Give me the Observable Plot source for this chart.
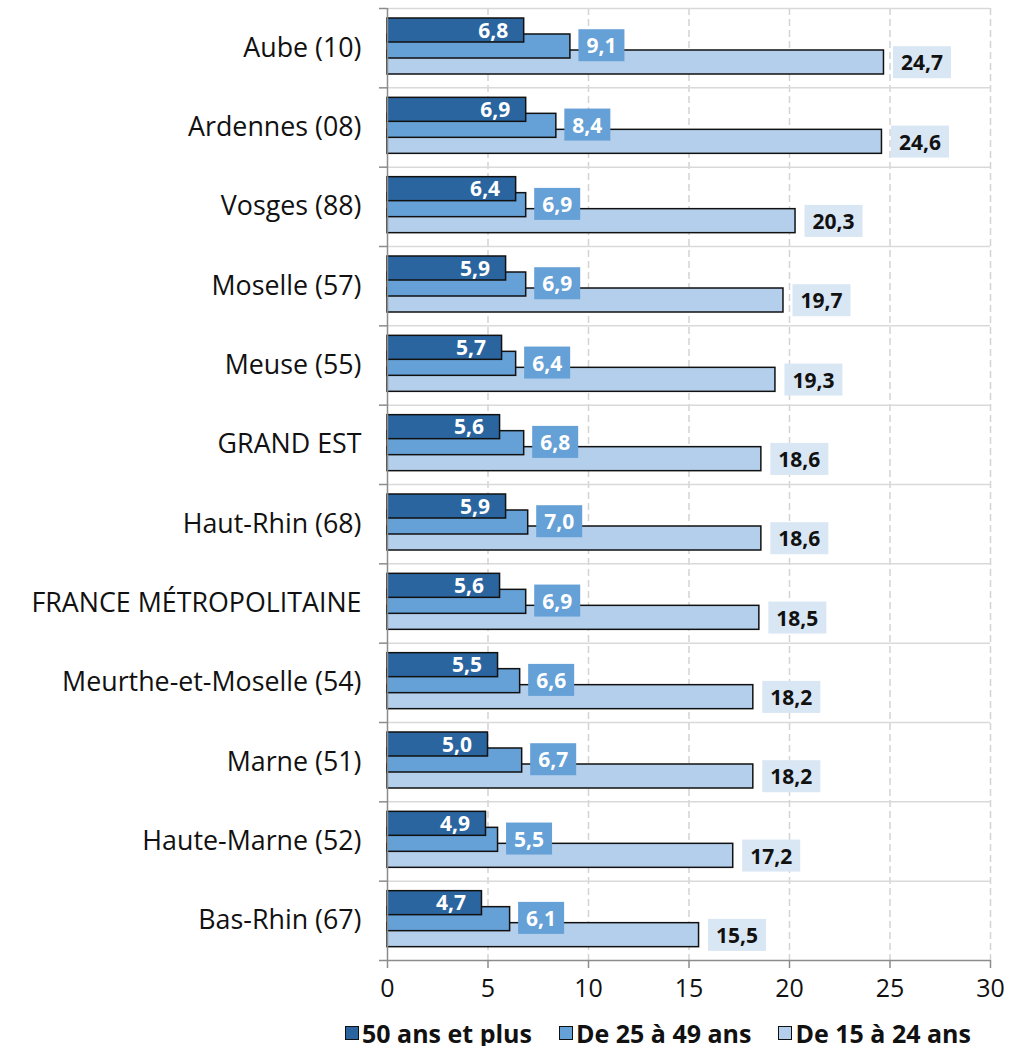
<!DOCTYPE html>
<html><head><meta charset="utf-8">
<script src="https://cdn.jsdelivr.net/npm/d3@7"></script>
<script src="https://cdn.jsdelivr.net/npm/@observablehq/plot@0.6"></script>
<style>
body{margin:0;background:#fff;font-family:"Open Sans",Lato,sans-serif;color:#111;}
#chart svg{display:block;overflow:visible;}
#legend{display:flex;align-items:center;margin-left:345px;margin-top:12px;font-weight:bold;font-size:25px;line-height:26px;color:#111;}
.item{display:flex;align-items:center;margin-right:27px;}
.sw{width:12px;height:12px;border:1.5px solid #111;margin-right:3px;}
</style></head><body>
<div id="chart"></div><div id="legend"></div>
<script>
const categories = ["Aube (10)","Ardennes (08)","Vosges (88)","Moselle (57)","Meuse (55)","GRAND EST","Haut-Rhin (68)","FRANCE MÉTROPOLITAINE","Meurthe-et-Moselle (54)","Marne (51)","Haute-Marne (52)","Bas-Rhin (67)"];
const seriesNames = ["50 ans et plus","De 25 à 49 ans","De 15 à 24 ans"];
const v50 = [6.8,6.9,6.4,5.9,5.7,5.6,5.9,5.6,5.5,5.0,4.9,4.7];
const v25 = [9.1,8.4,6.9,6.9,6.4,6.8,7.0,6.9,6.6,6.7,5.5,6.1];
const v15 = [24.7,24.6,20.3,19.7,19.3,18.6,18.6,18.5,18.2,18.2,17.2,15.5];
const xTicks = [0,5,10,15,20,25,30];
const colors = ["#2a65a0","#65a0d6","#b4cfeb"];
const boxLight = "#d9e6f4";

const W = 1029, H = 1008, mL = 387, mR = 39, mT = 8, mB = 48;
const bw = (H - mT - mB) / categories.length;
const fmt = v => v.toFixed(1).replace(".", ",");
const d50 = categories.map((c,i)=>({cat:c, v:v50[i]}));
const d25 = categories.map((c,i)=>({cat:c, v:v25[i]}));
const d15 = categories.map((c,i)=>({cat:c, v:v15[i]}));
const barOpt = {stroke:"#111", strokeWidth:1.5};
const FONT = "'Open Sans', Lato, sans-serif";

const chart = Plot.plot({
  width: W, height: H, marginLeft: mL, marginRight: mR, marginTop: mT, marginBottom: mB,
  style: {fontFamily: FONT, fontSize: "26px", color: "#111", background: "#fff"},
  x: {domain: [0, 30], label: null},
  y: {domain: categories, padding: 0, round: false, label: null},
  marks: [
    Plot.ruleX(xTicks.slice(1), {stroke:"#d4d4d4", strokeWidth:1.5, strokeDasharray:"7,4"}),
    Plot.ruleY(categories, {y: d=>d, dy: -bw/2, x1: 0, x2: 30, stroke:"#d9d9d9", strokeWidth:1.5}),
    Plot.barX(d15, {y:"cat", x:"v", fill: colors[2], insetTop: 42, insetBottom: bw-66, ...barOpt}),
    Plot.barX(d25, {y:"cat", x:"v", fill: colors[1], insetTop: 26, insetBottom: bw-50, ...barOpt}),
    Plot.barX(d50, {y:"cat", x:"v", fill: colors[0], insetTop: 10, insetBottom: bw-34, ...barOpt}),
    Plot.text(d15, {y:"cat", x:"v", text: d=>fmt(d.v), dx: 17, dy: 55 - bw/2, textAnchor:"start", fill:"#111", fontSize:21, fontWeight:"bold", className:"lbl-light"}),
    Plot.text(d25, {y:"cat", x:"v", text: d=>fmt(d.v), dx: 16, dy: 38 - bw/2, textAnchor:"start", fill:"#fff", fontSize:21, fontWeight:"bold", className:"lbl-med"}),
    Plot.text(d50, {y:"cat", x:"v", text: d=>fmt(d.v), dx: -16, dy: 22.5 - bw/2, textAnchor:"end", fill:"#fff", fontSize:21, fontWeight:"bold"}),
    Plot.ruleX([0], {stroke:"#8c8c8c", strokeWidth:1.5}),
    Plot.ruleY(categories, {y: d=>d, dy: -bw/2, x1: 0, x2: 0, insetLeft: -8, stroke:"#8c8c8c", strokeWidth:1.5}),
    Plot.ruleY([categories[categories.length-1]], {y: d=>d, dy: bw/2, x1: 0, x2: 30, insetLeft: -8, stroke:"#8c8c8c", strokeWidth:1.5}),
    Plot.axisX({ticks: xTicks, tickSize: 8, stroke:"#8c8c8c", strokeWidth:1.5, tickFormat: () => "", label: null}),
    Plot.axisX({ticks: xTicks, tickSize: 0, tickPadding: 19, fill:"#111", fontSize: 25, tickFormat: d => String(d), label: null}),
    Plot.axisY({tickSize: 0, tickPadding: 26, fill:"#111", fontSize: 26.8, label: null})
  ]
});
document.getElementById("chart").appendChild(chart);

function addBoxes(cls, color, px, py) {
  chart.querySelectorAll("g." + cls + " text").forEach(t => {
    const b = t.getBBox();
    const r = document.createElementNS("http://www.w3.org/2000/svg", "rect");
    r.setAttribute("x", b.x - px);
    r.setAttribute("y", b.y - py);
    r.setAttribute("width", b.width + 2*px);
    r.setAttribute("height", b.height + 2*py);
    r.setAttribute("fill", color);
    r.setAttribute("stroke", "none");
    if (t.getAttribute("transform")) r.setAttribute("transform", t.getAttribute("transform"));
    t.parentNode.insertBefore(r, t);
  });
}
addBoxes("lbl-med", colors[1], 8, 2);
addBoxes("lbl-light", boxLight, 8, 2);

const lg = document.getElementById("legend");
seriesNames.forEach((s,i) => {
  const it = document.createElement("div"); it.className = "item";
  const sw = document.createElement("div"); sw.className = "sw"; sw.style.background = colors[i];
  const tx = document.createElement("span"); tx.textContent = s;
  it.appendChild(sw); it.appendChild(tx); lg.appendChild(it);
});
</script>
</body></html>
